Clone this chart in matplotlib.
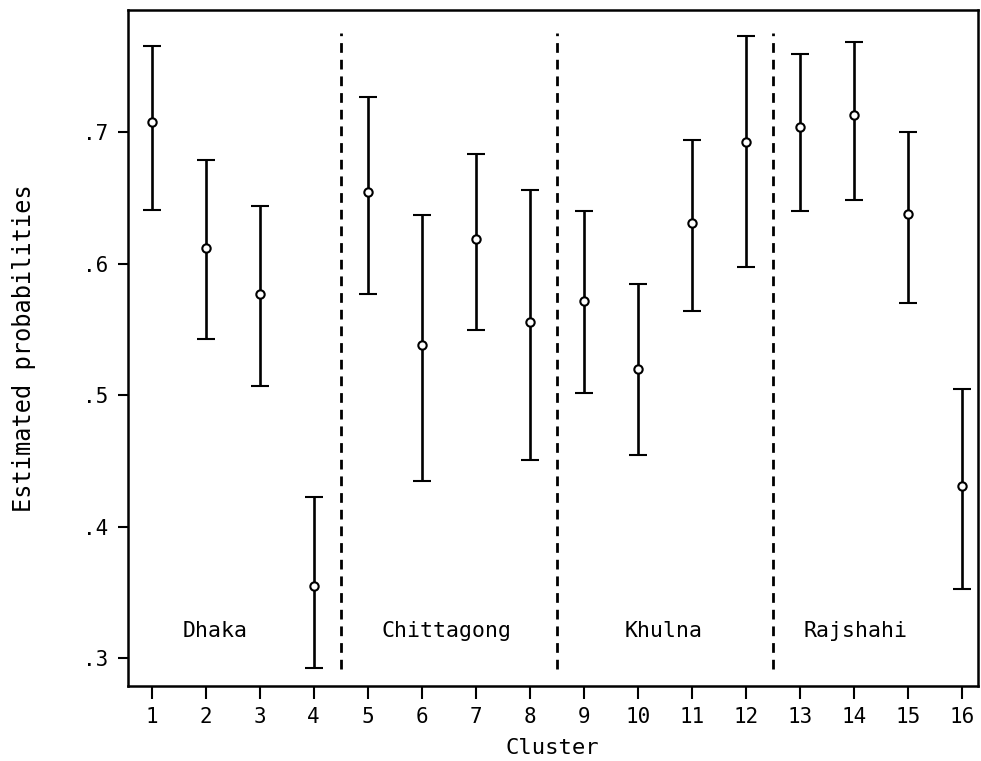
import numpy as np
import matplotlib.pyplot as plt

# cluster estimates with lower / upper bounds
cluster = np.arange(1, 17)
est = [0.708, 0.612, 0.577, 0.355, 0.655, 0.538, 0.619, 0.556,
       0.572, 0.520, 0.631, 0.693, 0.704, 0.713, 0.638, 0.431]
lower = [0.641, 0.543, 0.507, 0.293, 0.577, 0.435, 0.550, 0.451,
         0.502, 0.455, 0.564, 0.598, 0.640, 0.649, 0.570, 0.353]
upper = [0.766, 0.679, 0.644, 0.423, 0.727, 0.637, 0.684, 0.656,
         0.640, 0.585, 0.694, 0.773, 0.760, 0.769, 0.700, 0.505]

regions = ['Dhaka', 'Chittagong', 'Khulna', 'Rajshahi']
region_x = [2.17, 6.46, 10.48, 14.04]
dividers = [4.5, 8.5, 12.5]

yticks = [0.3, 0.4, 0.5, 0.6, 0.7]
ytick_labels = ['.3', '.4', '.5', '.6', '.7']

plt.rcParams['font.family'] = ['DejaVu Sans Mono']

fig = plt.figure(figsize=(9.81, 7.61), dpi=100)
ax = fig.add_axes([0.130, 0.0986, 0.867, 0.888])

est = np.array(est)
yerr = [est - np.array(lower), np.array(upper) - est]
ax.errorbar(cluster, est, yerr=yerr, fmt='o', color='black', ecolor='black',
            elinewidth=1.9, capsize=6.5, capthick=1.9, markersize=6,
            markerfacecolor='white', markeredgewidth=1.5)

ax.vlines(dividers, 0.292, 0.776, colors='black', linestyles=(0, (3.5, 2.5)),
          linewidth=2)

for name, xpos in zip(regions, region_x):
    ax.text(xpos, 0.321, name, ha='center', va='center', fontsize=15.5)

ax.set_xlim(0.556, 16.3)
ax.set_ylim(0.279, 0.793)
ax.set_xticks(cluster)
ax.set_xticklabels([str(c) for c in cluster], fontsize=15)
ax.set_yticks(yticks)
ax.set_yticklabels(ytick_labels, fontsize=15)
ax.tick_params(axis='x', direction='out', length=9, width=1.5, pad=6)
ax.tick_params(axis='y', direction='out', length=7, width=1.5, pad=7)

for s in ax.spines.values():
    s.set_linewidth(1.8)

ax.set_xlabel('Cluster', fontsize=16, labelpad=8)
ax.set_ylabel('Estimated probabilities', fontsize=17, labelpad=34)

fig.savefig('out.png', dpi=100)
